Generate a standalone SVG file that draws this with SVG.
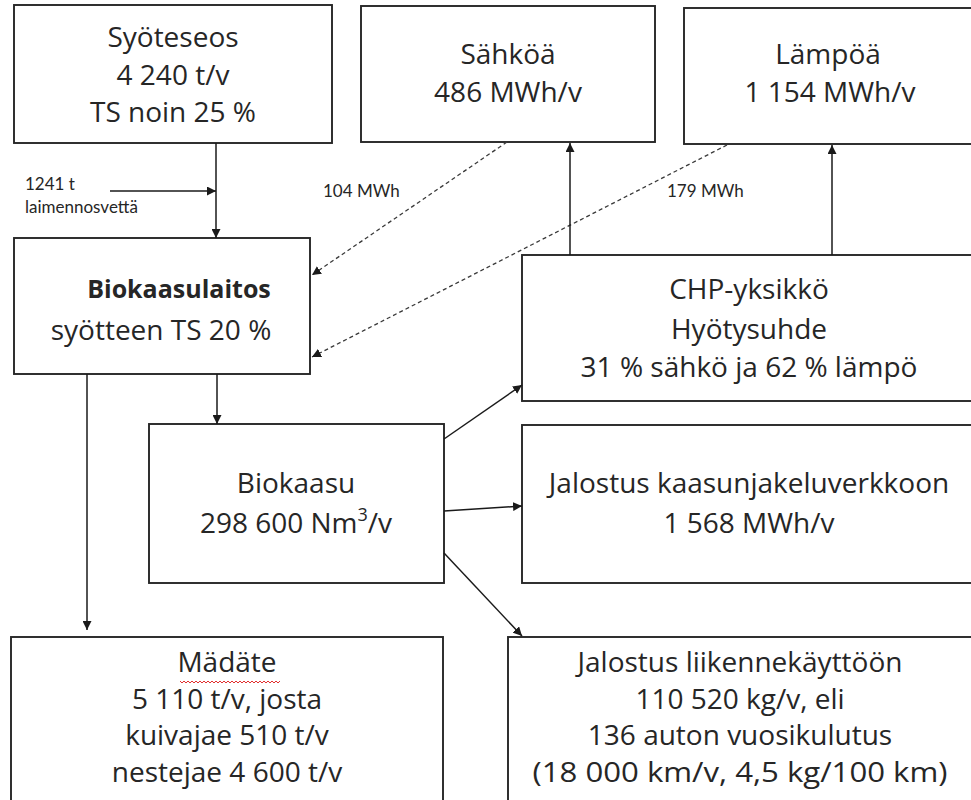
<svg xmlns="http://www.w3.org/2000/svg" width="971" height="800" viewBox="0 0 971 800">
<defs>
<style>
.box{fill:#fff;stroke:#262626;stroke-width:1.9}
.t{font-family:"Open Sans",Lato,"Liberation Sans",sans-serif;font-size:28px;fill:#262626;text-anchor:middle}
.b{font-weight:bold;font-size:25px}
.s{font-family:Lato,"Open Sans","Liberation Sans",sans-serif;font-size:17px;fill:#262626}
.c{fill:none;stroke:#1a1a1a;stroke-width:1.5}
.d{fill:none;stroke:#3a3a3a;stroke-width:1.3;stroke-dasharray:4 3}
</style>
<marker id="ah" viewBox="0 0 10 10" refX="10" refY="5" markerWidth="9" markerHeight="9" markerUnits="userSpaceOnUse" orient="auto">
<path d="M0,0 L10,5 L0,10 z" fill="#1a1a1a"/>
</marker>
</defs>
<rect width="971" height="800" fill="#fff"/>

<g id="syoteseos">
<rect class="box" x="14" y="5" width="318" height="138"/>
<text class="t" x="173" y="47">Syöteseos</text>
<text class="t" x="173" y="85">4 240 t/v</text>
<text class="t" x="173" y="122">TS noin 25 %</text>
</g>

<g id="sahkoa">
<rect class="box" x="361" y="6" width="294" height="136"/>
<text class="t" x="508" y="64">Sähköä</text>
<text class="t" x="508" y="102">486 MWh/v</text>
</g>

<g id="lampoa">
<rect class="box" x="684" y="8" width="300" height="136"/>
<text class="t" x="828" y="64">Lämpöä</text>
<text class="t" x="830" y="102">1 154 MWh/v</text>
</g>

<g id="biokaasulaitos">
<rect class="box" x="14" y="238" width="296" height="136"/>
<text class="t b" x="179" y="298">Biokaasulaitos</text>
<text class="t" x="161" y="340">syötteen TS 20 %</text>
</g>

<g id="chp">
<rect class="box" x="522" y="255" width="460" height="146"/>
<text class="t" x="749" y="299">CHP-yksikkö</text>
<text class="t" x="749" y="339">Hyötysuhde</text>
<text class="t" x="749" y="377">31 % sähkö ja 62 % lämpö</text>
</g>

<g id="biokaasu">
<rect class="box" x="149" y="424" width="295" height="159"/>
<text class="t" x="296" y="493">Biokaasu</text>
<text class="t" x="296" y="533">298 600 Nm<tspan font-size="18" dy="-12">3</tspan><tspan dy="12">/v</tspan></text>
</g>

<g id="kaasunjakelu">
<rect class="box" x="522" y="425" width="460" height="158"/>
<text class="t" x="749" y="493">Jalostus kaasunjakeluverkkoon</text>
<text class="t" x="749" y="533">1 568 MWh/v</text>
</g>

<g id="madate">
<rect class="box" x="11" y="637" width="432" height="180"/>
<text class="t" x="227" y="672">Mädäte</text>
<path d="M180,681 l2,2 l2,-2 l2,2 l2,-2 l2,2 l2,-2 l2,2 l2,-2 l2,2 l2,-2 l2,2 l2,-2 l2,2 l2,-2 l2,2 l2,-2 l2,2 l2,-2 l2,2 l2,-2 l2,2 l2,-2 l2,2 l2,-2 l2,2 l2,-2 l2,2 l2,-2 l2,2 l2,-2 l2,2 l2,-2 l2,2 l2,-2 l2,2 l2,-2 l2,2 l2,-2 l2,2 l2,-2 l2,2 l2,-2 l2,2 l2,-2 l2,2 l2,-2 l2,2 l2,-2 l2,2 l2,-2" fill="none" stroke="#e03030" stroke-width="1"/>
<text class="t" x="227" y="709">5 110 t/v, josta</text>
<text class="t" x="227" y="745">kuivajae 510 t/v</text>
<text class="t" x="227" y="782">nestejae 4 600 t/v</text>
</g>

<g id="liikenne">
<rect class="box" x="508" y="637" width="480" height="180"/>
<text class="t" x="740" y="672">Jalostus liikennekäyttöön</text>
<text class="t" x="740" y="709">110 520 kg/v, eli</text>
<text class="t" x="740" y="745">136 auton vuosikulutus</text>
<text class="t" x="740" y="782" textLength="415" lengthAdjust="spacingAndGlyphs">(18 000 km/v, 4,5 kg/100 km)</text>
</g>

<g id="connectors">
<line class="c" x1="216" y1="143" x2="216" y2="238" marker-end="url(#ah)"/>
<line class="c" x1="110" y1="191" x2="216" y2="191" marker-end="url(#ah)"/>
<line class="d" x1="507" y1="142" x2="312" y2="275" marker-end="url(#ah)"/>
<line class="d" x1="727" y1="145" x2="312" y2="357" marker-end="url(#ah)"/>
<line class="c" x1="570" y1="255" x2="570" y2="143" marker-end="url(#ah)"/>
<line class="c" x1="832" y1="255" x2="832" y2="145" marker-end="url(#ah)"/>
<line class="c" x1="217" y1="374" x2="217" y2="424" marker-end="url(#ah)"/>
<line class="c" x1="87" y1="374" x2="87" y2="630" marker-end="url(#ah)"/>
<line class="c" x1="444" y1="439" x2="522" y2="385" marker-end="url(#ah)"/>
<line class="c" x1="444" y1="511" x2="522" y2="506" marker-end="url(#ah)"/>
<line class="c" x1="444" y1="553" x2="522" y2="636" marker-end="url(#ah)"/>
<text class="s" x="25" y="190">1241 t</text>
<text class="s" x="25" y="213">laimennosvettä</text>
<text class="s" x="323" y="197">104 MWh</text>
<text class="s" x="667" y="197">179 MWh</text>
</g>
</svg>
